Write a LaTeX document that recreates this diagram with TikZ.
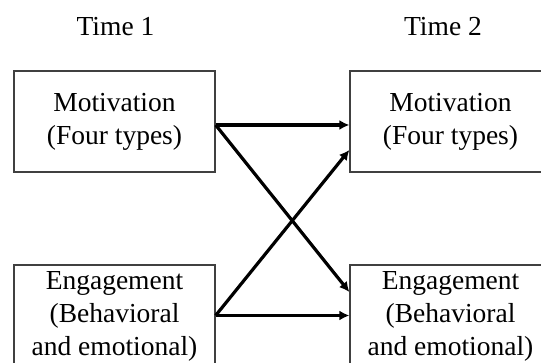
\documentclass[tikz,border=0pt]{standalone}
\usepackage{fontspec}
\setmainfont{Liberation Serif}
\usetikzlibrary{arrows.meta}
\newcommand\boxtext[1]{\raisebox{-3pt}{\begin{tabular}{@{}c@{}}#1\end{tabular}}}
\begin{document}
\begin{tikzpicture}[x=1pt,y=1pt,
  boxnode/.style={draw=black!75, line width=1.3pt, minimum width=201pt, minimum height=101pt,
    inner sep=0pt, font=\fontsize{27.5}{33}\selectfont},
  lbl/.style={font=\fontsize{27.5}{33}\selectfont, inner sep=0pt},
  conn/.style={line width=3.2pt, -{Latex[length=10pt,width=10pt]}}]
\path[use as bounding box, clip] (0,0) rectangle (541,363);
\fill[white] (0,0) rectangle (541,363);
\node[lbl] (t1) at (115.5,336) {Time 1};
\node[lbl] (t2) at (443,336) {Time 2};
\node[boxnode] (m1) at (114.5,241.5) {\boxtext{Motivation\\(Four types)}};
\node[boxnode] (m2) at (450.5,241.5) {\boxtext{Motivation\\(Four types)}};
\node[boxnode] (e1) at (114.5,47.5) {\boxtext{Engagement\\(Behavioral\\and emotional)}};
\node[boxnode] (e2) at (450.5,47.5) {\boxtext{Engagement\\(Behavioral\\and emotional)}};
\coordinate (ms) at ([yshift=-3.5pt]m1.east);
\draw[conn] (ms) -- ([yshift=-3.5pt]m2.west);
\draw[conn] (ms) -- ([yshift=23.5pt]e2.west);
\draw[conn] (e1.east) -- (e2.west);
\draw[conn] (e1.east) -- ([yshift=-28.5pt]m2.west);
\end{tikzpicture}
\end{document}
